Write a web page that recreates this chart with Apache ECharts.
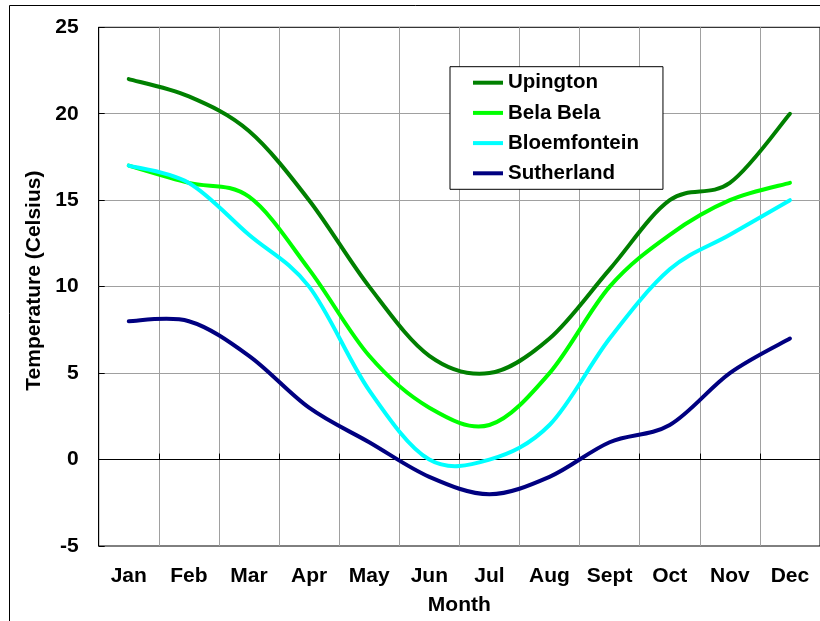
<!DOCTYPE html>
<html>
<head>
<meta charset="utf-8">
<script src="https://cdn.jsdelivr.net/npm/echarts@6/dist/echarts.min.js"></script>
<style>
html,body{margin:0;padding:0;background:#fff;}
#chart{width:820px;height:621px;}
</style>
</head>
<body>
<div id="chart"></div>
<script>
var months = ['Jan','Feb','Mar','Apr','May','Jun','Jul','Aug','Sept','Oct','Nov','Dec'];
var upington = [22, 21, 19, 15, 10, 6, 5, 7, 11, 15, 16, 20];
var belaBela = [17, 16, 15.2, 11, 6, 3, 2, 5, 10, 13, 15, 16];
var bloemfontein = [17, 16, 13, 10, 4, 0, 0, 2, 7, 11, 13, 15];
var sutherland = [8, 8, 6, 3, 1, -1, -2, -1, 1, 2, 5, 7];
var yTicks = {min: -5, max: 25, interval: 5};

var FONT = "'Liberation Sans', Arial, sans-serif";

// Smoothed (Catmull-Rom style, like a spreadsheet "smoothed line") path through the points,
// each point positioned by the chart's own axes via api.coord.
function smoothRender(values, color) {
  return function (params, api) {
    if (params.dataIndex !== 0) return null;
    var p = values.map(function (v, i) { return api.coord([i, v]); });
    var n = p.length;
    function P(i) { return p[Math.max(0, Math.min(n - 1, i))]; }
    var d = 'M' + p[0][0] + ',' + p[0][1];
    for (var i = 0; i < n - 1; i++) {
      var a = P(i - 1), b = P(i), c = P(i + 1), e = P(i + 2);
      var c1x = b[0] + (c[0] - a[0]) / 6, c1y = b[1] + (c[1] - a[1]) / 6;
      var c2x = c[0] - (e[0] - b[0]) / 6, c2y = c[1] - (e[1] - b[1]) / 6;
      d += ' C' + c1x + ',' + c1y + ' ' + c2x + ',' + c2y + ' ' + c[0] + ',' + c[1];
    }
    return {
      type: 'path',
      shape: {pathData: d},
      style: {fill: null, stroke: color, lineWidth: 4, lineCap: 'round', lineJoin: 'round'}
    };
  };
}
function mkSeries(name, values, color) {
  return {
    name: name, type: 'custom', clip: false,
    data: values.map(function (v, i) { return [i, v]; }),
    encode: {x: 0, y: 1},
    itemStyle: {color: color},
    renderItem: smoothRender(values, color)
  };
}
var chart = echarts.init(document.getElementById('chart'), null, {renderer: 'canvas'});
chart.setOption({
  animation: false,
  backgroundColor: '#fff',
  graphic: [{
    type: 'rect', z: -10,
    shape: {x: 9.5, y: 5.5, width: 900, height: 700},
    style: {fill: 'none', stroke: '#000', lineWidth: 1}
  }],
  grid: {
    left: 98.7, top: 27.3, width: 724.2, height: 521,
    show: true, borderColor: '#000', borderWidth: 1, backgroundColor: 'transparent'
  },
  legend: {
    orient: 'vertical', left: 450, top: 66.7,
    padding: [5.5, 24, 5.5, 23],
    itemGap: 9.2, itemWidth: 30, itemHeight: 14,
    borderColor: '#000', borderWidth: 1, backgroundColor: '#fff',
    icon: 'path://M0,6 L30,6 L30,10 L0,10 Z',
    textStyle: {fontFamily: FONT, fontWeight: 'bold', fontSize: 20.5, color: '#000'},
    data: ['Upington', 'Bela Bela', 'Bloemfontein', 'Sutherland']
  },
  xAxis: {
    type: 'category', data: months, boundaryGap: true,
    name: 'Month', nameLocation: 'middle', nameGap: 49,
    nameTextStyle: {fontFamily: FONT, fontWeight: 'bold', fontSize: 21, color: '#000'},
    axisLine: {show: true, lineStyle: {color: '#000', width: 1}},
    axisTick: {show: true, inside: true, length: 6, lineStyle: {color: '#000'}},
    axisLabel: {fontFamily: FONT, fontWeight: 'bold', fontSize: 21, color: '#000', margin: 20, interval: 0},
    splitLine: {show: true, interval: 0, lineStyle: {color: '#a0a0a0', width: 1}}
  },
  yAxis: {
    type: 'value', min: yTicks.min, max: yTicks.max, interval: yTicks.interval,
    name: 'Temperature (Celsius)', nameLocation: 'middle', nameGap: 47, nameRotate: 90,
    nameTextStyle: {fontFamily: FONT, fontWeight: 'bold', fontSize: 21, color: '#000', padding: [0, 0, 0, 12]},
    axisLine: {show: true, lineStyle: {color: '#000', width: 1}},
    axisTick: {show: true, inside: true, length: 6, lineStyle: {color: '#000'}},
    axisLabel: {fontFamily: FONT, fontWeight: 'bold', fontSize: 21, color: '#000', margin: 20},
    splitLine: {show: true, showMinLine: false, showMaxLine: false, lineStyle: {color: '#a0a0a0', width: 1}}
  },
  series: [
    mkSeries('Upington', upington, '#008000'),
    mkSeries('Bela Bela', belaBela, '#00ff00'),
    mkSeries('Bloemfontein', bloemfontein, '#00ffff'),
    mkSeries('Sutherland', sutherland, '#000080')
  ]
});
</script>
</body>
</html>
